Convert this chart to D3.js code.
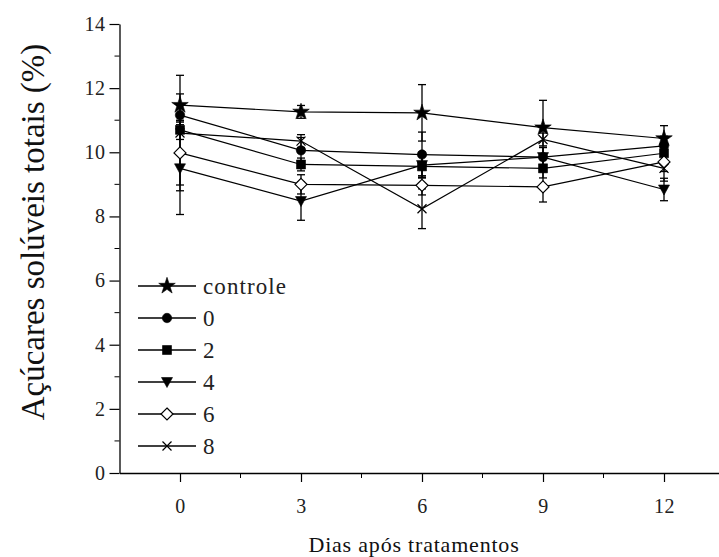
<!DOCTYPE html>
<html>
<head>
<meta charset="utf-8">
<script src="https://cdn.jsdelivr.net/npm/d3@7"></script>
<style>
  body { margin: 0; background: #fff; }
</style>
</head>
<body>
<div id="chart"></div>
<script>
"use strict";
var days = [0, 3, 6, 9, 12];
var seriesNames = ["controle", "0", "2", "4", "6", "8"];
var controle = [11.47, 11.26, 11.23, 10.77, 10.43];
var dose0 = [11.16, 10.06, 9.93, 9.85, 10.2];
var dose2 = [10.7, 9.62, 9.56, 9.5, 9.97];
var dose4 = [9.5, 8.48, 9.6, 9.85, 8.84];
var dose6 = [9.98, 9.0, 8.97, 8.92, 9.7];
var dose8 = [10.6, 10.35, 8.24, 10.4, 9.5];
var controleErr = [0.35, 0.2, 0.88, 0.85, 0.4];
var dose0Err = [0.3, 0.4, 0.7, 0.3, 0.3];
var dose2Err = [0.3, 0.2, 0.35, 0.3, 0.3];
var dose4Err = [1.44, 0.6, 0.4, 0.3, 0.35];
var dose6Err = [1.0, 0.3, 0.3, 0.47, 0.3];
var dose8Err = [1.8, 0.2, 0.62, 0.2, 0.4];
var xTicks = [0, 3, 6, 9, 12];
var xMinor = [1.5, 4.5, 7.5, 10.5, 13.5];
var yTicks = [0, 2, 4, 6, 8, 10, 12, 14];
var yMinor = [1, 3, 5, 7, 9, 11, 13];

var FONT = "'Liberation Serif', 'Times New Roman', serif";
var g = {};
g.width = 719;
g.height = 557;
g.series = [
  {name: seriesNames[0], values: controle, err: controleErr, marker: "star"},
  {name: seriesNames[1], values: dose0, err: dose0Err, marker: "circle"},
  {name: seriesNames[2], values: dose2, err: dose2Err, marker: "square"},
  {name: seriesNames[3], values: dose4, err: dose4Err, marker: "triangle"},
  {name: seriesNames[4], values: dose6, err: dose6Err, marker: "diamond"},
  {name: seriesNames[5], values: dose8, err: dose8Err, marker: "cross"}
];

var x = d3.scaleLinear().domain([-1.5, 13.5]).range([119.5, 724.5]);
var y = d3.scaleLinear().domain([0, 14]).range([473, 24]);

var svg = d3.select("#chart").append("svg")
  .attr("width", g.width)
  .attr("height", g.height);

/*marker shapes, drawn around 0,0*/
var markerPath = {
  star: d3.symbol().type(d3.symbolStar).size(85)(),
  circle: d3.symbol().type(d3.symbolCircle).size(70)(),
  square: "M-4.5,-4.5H4.5V4.5H-4.5Z",
  triangle: "M-5.5,-4.5H5.5L0,5.5Z",
  diamond: "M0,-6L6,0L0,6L-6,0Z",
  cross: "M-4.5,-4.5L4.5,4.5M4.5,-4.5L-4.5,4.5"
};

function drawMarker(sel, type) {
  sel.append("path")
    .attr("d", markerPath[type])
    .attr("fill", type === "diamond" ? "#fff" : (type === "cross" ? "none" : "#000"))
    .attr("stroke", "#000")
    .attr("stroke-width", type === "diamond" || type === "cross" ? 1.2 : 0.6);
}

/*axes*/
var xAxis = d3.axisBottom(x).tickValues(xTicks).tickSize(9).tickSizeOuter(0).tickFormat(d3.format("d"));
var yAxis = d3.axisLeft(y).tickValues(yTicks).tickSize(10).tickSizeOuter(0).tickFormat(d3.format("d"));

var gx = svg.append("g")
  .attr("transform", "translate(0," + y(0) + ")")
  .call(xAxis);
gx.selectAll("line.minor").data(xMinor).enter().append("line")
  .attr("class", "minor")
  .attr("x1", function(d) { return x(d); })
  .attr("x2", function(d) { return x(d); })
  .attr("y1", 0)
  .attr("y2", 5)
  .attr("stroke", "#000");

var gy = svg.append("g")
  .attr("transform", "translate(" + x(-1.5) + ",0)")
  .call(yAxis);
gy.selectAll("line.minor").data(yMinor).enter().append("line")
  .attr("class", "minor")
  .attr("x1", 0)
  .attr("x2", -5)
  .attr("y1", function(d) { return y(d); })
  .attr("y2", function(d) { return y(d); })
  .attr("stroke", "#000");

svg.selectAll(".domain").attr("stroke", "#000").attr("stroke-width", 1.3);
svg.selectAll(".tick line").attr("stroke", "#000").attr("stroke-width", 1.2);
gx.selectAll(".tick text")
  .style("font-family", FONT)
  .style("font-size", "20px")
  .style("letter-spacing", "0.5px")
  .attr("y", 26)
  .attr("fill", "#222");
gy.selectAll(".tick text")
  .style("font-family", FONT)
  .style("font-size", "20px")
  .style("letter-spacing", "0.5px")
  .attr("x", -14)
  .attr("fill", "#222");

/*titles*/
svg.append("text")
  .attr("x", x(6) - 8)
  .attr("y", 552)
  .attr("text-anchor", "middle")
  .style("font-family", FONT)
  .style("font-size", "22px")
  .style("letter-spacing", "0.8px")
  .attr("fill", "#111")
  .text("Dias após tratamentos");

svg.append("text")
  .attr("transform", "translate(44,232) rotate(-90)")
  .attr("text-anchor", "middle")
  .style("font-family", FONT)
  .style("font-size", "33px")
  .attr("fill", "#111")
  .text("Açúcares solúveis totais (%)");

/*error bars*/
var plot = svg.append("g").attr("class", "plot");
g.series.forEach(function(s) {
  var grp = plot.append("g").attr("class", "err");
  days.forEach(function(d, i) {
    var lo = y(s.values[i] - s.err[i]);
    var hi = y(s.values[i] + s.err[i]);
    grp.append("line")
      .attr("x1", x(d)).attr("x2", x(d))
      .attr("y1", lo).attr("y2", hi)
      .attr("stroke", "#000").attr("stroke-width", 1.3);
    [lo, hi].forEach(function(v) {
      grp.append("line")
        .attr("x1", x(d) - 4).attr("x2", x(d) + 4)
        .attr("y1", v).attr("y2", v)
        .attr("stroke", "#000").attr("stroke-width", 1.3);
    });
  });
});

/*lines and markers*/
var line = d3.line()
  .x(function(d, i) { return x(days[i]); })
  .y(function(d) { return y(d); });

g.series.forEach(function(s) {
  plot.append("path")
    .attr("d", line(s.values))
    .attr("fill", "none")
    .attr("stroke", "#000")
    .attr("stroke-width", 1.2);
});
g.series.forEach(function(s) {
  days.forEach(function(d, i) {
    var m = plot.append("g")
      .attr("transform", "translate(" + x(d) + "," + y(s.values[i]) + ")");
    drawMarker(m, s.marker);
  });
});

/*legend*/
var legend = svg.append("g").attr("class", "legend");
g.series.forEach(function(s, i) {
  var ly = 286 + i * 32;
  var row = legend.append("g").attr("transform", "translate(0," + ly + ")");
  row.append("line")
    .attr("x1", 138).attr("x2", 196)
    .attr("y1", 0).attr("y2", 0)
    .attr("stroke", "#000").attr("stroke-width", 1.3);
  var m = row.append("g").attr("transform", "translate(167,0)");
  drawMarker(m, s.marker);
  row.append("text")
    .attr("x", 203)
    .attr("y", 0)
    .attr("dy", "0.35em")
    .style("font-family", FONT)
    .style("font-size", "23px")
    .style("letter-spacing", "1.1px")
    .attr("fill", "#222")
    .text(s.name);
});
</script>
</body>
</html>
